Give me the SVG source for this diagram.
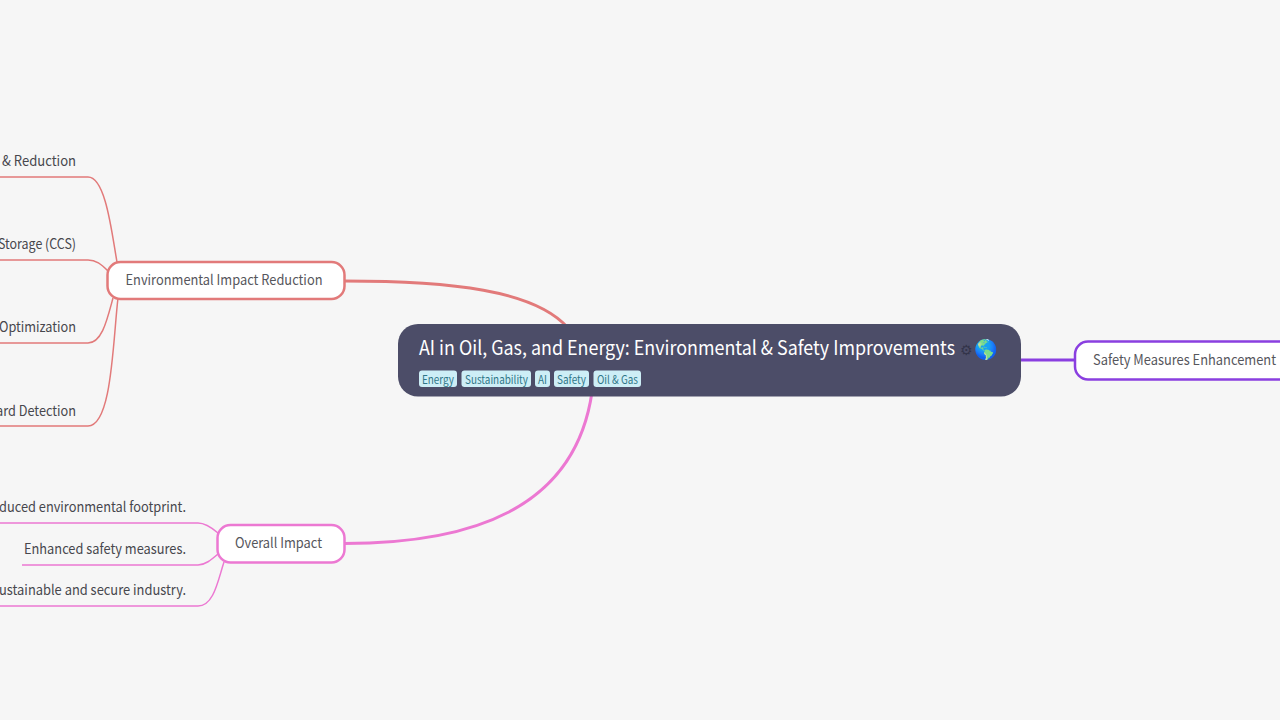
<svg xmlns="http://www.w3.org/2000/svg" width="1280" height="720" viewBox="0 0 1280 720">
<style>
text{font-family:"Noto Sans CJK SC","Noto Sans",sans-serif}
.c{fill:none}
.red{stroke:#e27a7a}
.pink{stroke:#ec78d2}
.thin{stroke-width:1.500}
.main{stroke-width:3}
.leaf{font-size:14px;fill:#47474d;text-anchor:end}
.lab{font-size:14px;fill:#56565c;text-anchor:middle}
.box{fill:#fff;stroke-width:2.500}
.tag{fill:#cdeef6}
.tagt{font-size:11.500px;fill:#2f7688;text-anchor:middle}
</style>
<rect width="1280" height="720" fill="#f6f6f6"/>
<g id="connectors">
<path class="c red main" d="M344 281C450 281 535 290 568 328"/>
<path class="c pink main" d="M344 543.500C470 543.500 575 510 592 392"/>
<path class="c main" stroke="#8a3fe0" d="M1020 360H1076"/>
<path class="c red thin" d="M117 262C112 235 106 177 88 177H0"/>
<path class="c red thin" d="M108 271C101 264 96 260 88 260H0"/>
<path class="c red thin" d="M113 298C107 320 102 343 88 343H0"/>
<path class="c red thin" d="M118 298C113 340 112 426 88 426H0"/>
<path class="c pink thin" d="M218 533C211 527 205 523 198 523H0"/>
<path class="c pink thin" d="M218 554C211 560 205 565 198 565H22"/>
<path class="c pink thin" d="M224 562C218 580 214 606 198 606H0"/>
</g>
<g id="root">
<rect x="398" y="324" width="623" height="72.500" rx="20" fill="#4c4d68"/>
<text x="419" y="354.500" font-size="19.500" fill="#fff" textLength="536" lengthAdjust="spacingAndGlyphs">AI in Oil, Gas, and Energy: Environmental &amp; Safety Improvements</text>
<text x="959.500" y="354.500" font-size="14" fill="#33344a">⚙</text>
<text x="974" y="356" font-size="19" fill="#2e8bd8" font-family="'Noto Color Emoji',sans-serif">🌎</text>
<g id="tags">
<rect class="tag" x="419" y="370.500" width="38" height="16.500" rx="3"/><text class="tagt" x="438" y="384" textLength="32" lengthAdjust="spacingAndGlyphs">Energy</text>
<rect class="tag" x="461.500" y="370.500" width="69.500" height="16.500" rx="3"/><text class="tagt" x="496.500" y="384" textLength="63" lengthAdjust="spacingAndGlyphs">Sustainability</text>
<rect class="tag" x="535" y="370.500" width="15" height="16.500" rx="3"/><text class="tagt" x="542.500" y="384" textLength="9" lengthAdjust="spacingAndGlyphs">AI</text>
<rect class="tag" x="554" y="370.500" width="35" height="16.500" rx="3"/><text class="tagt" x="571.500" y="384" textLength="29" lengthAdjust="spacingAndGlyphs">Safety</text>
<rect class="tag" x="593.500" y="370.500" width="47.500" height="16.500" rx="3"/><text class="tagt" x="617.500" y="384" textLength="41" lengthAdjust="spacingAndGlyphs">Oil &amp; Gas</text>
</g>
</g>
<g id="n-env">
<rect class="box red" x="107.500" y="262" width="237" height="37" rx="13"/>
<text class="lab" x="224" y="284.500" textLength="197" lengthAdjust="spacingAndGlyphs">Environmental Impact Reduction</text>
</g>
<g id="n-safety">
<rect class="box" stroke="#8a3fe0" x="1075" y="341.500" width="230" height="38" rx="13"/>
<text class="lab" x="1184.500" y="364.500" textLength="183" lengthAdjust="spacingAndGlyphs">Safety Measures Enhancement</text>
</g>
<g id="n-overall">
<rect class="box pink" x="217.500" y="525" width="127" height="37.500" rx="13"/>
<text class="lab" x="278.500" y="547.500" textLength="87" lengthAdjust="spacingAndGlyphs">Overall Impact</text>
</g>
<g id="leaf-1"><text class="leaf" x="76" y="165.500" textLength="74" lengthAdjust="spacingAndGlyphs">&amp; Reduction</text></g>
<g id="leaf-2"><text class="leaf" x="76" y="249" textLength="78" lengthAdjust="spacingAndGlyphs">Storage (CCS)</text></g>
<g id="leaf-3"><text class="leaf" x="76" y="332" textLength="77" lengthAdjust="spacingAndGlyphs">Optimization</text></g>
<g id="leaf-4"><text class="leaf" x="76" y="415.500" textLength="80" lengthAdjust="spacingAndGlyphs">ard Detection</text></g>
<g id="leaf-5"><text class="leaf" x="186" y="512" textLength="187" lengthAdjust="spacingAndGlyphs">duced environmental footprint.</text></g>
<g id="leaf-6"><text class="leaf" x="186" y="553.500" textLength="162" lengthAdjust="spacingAndGlyphs">Enhanced safety measures.</text></g>
<g id="leaf-7"><text class="leaf" x="186" y="595" textLength="187" lengthAdjust="spacingAndGlyphs">ustainable and secure industry.</text></g>
</svg>
